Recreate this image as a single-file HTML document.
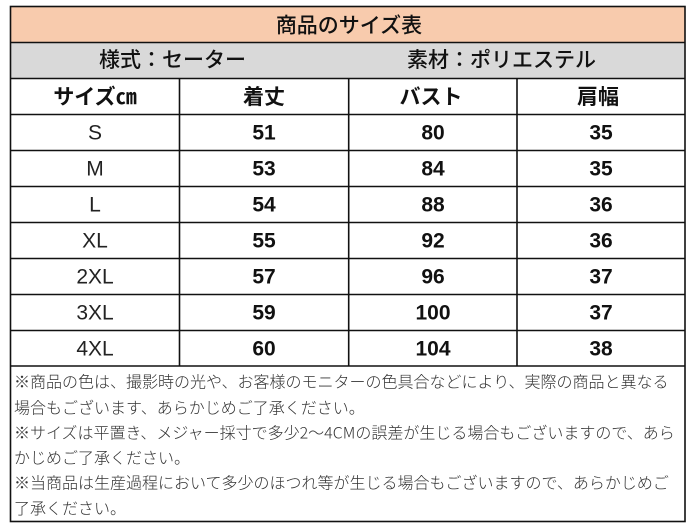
<!DOCTYPE html>
<html><head><meta charset="utf-8"><style>
html,body{margin:0;padding:0;background:#fff;}
svg{display:block;}
.cjk{font-family:"Liberation Sans","Noto Sans CJK JP",sans-serif;}
.jp{font-family:"Noto Sans CJK JP","Liberation Sans",sans-serif;}
.num{font-family:"Liberation Sans",sans-serif;}
</style></head><body>
<svg width="700" height="529" viewBox="0 0 700 529" xmlns="http://www.w3.org/2000/svg">
<rect x="0" y="0" width="700" height="529" fill="#fff"/>
<rect x="10" y="6" width="675" height="36" fill="#f8cbad"/>
<rect x="10" y="42" width="675" height="36" fill="#d9d9d9"/>
<g stroke="#111" stroke-width="1.6" fill="none">
<rect x="10.5" y="6.5" width="674.5" height="515"/>
<line x1="10" y1="42.5" x2="685" y2="42.5"/>
<line x1="10" y1="78.5" x2="685" y2="78.5"/>
<line x1="10" y1="114.5" x2="685" y2="114.5"/>
<line x1="10" y1="150.5" x2="685" y2="150.5"/>
<line x1="10" y1="186.5" x2="685" y2="186.5"/>
<line x1="10" y1="222.5" x2="685" y2="222.5"/>
<line x1="10" y1="258.5" x2="685" y2="258.5"/>
<line x1="10" y1="294.5" x2="685" y2="294.5"/>
<line x1="10" y1="330.5" x2="685" y2="330.5"/>
<line x1="10" y1="366" x2="685" y2="366"/>
<line x1="179.5" y1="78" x2="179.5" y2="366"/>
<line x1="348.7" y1="78" x2="348.7" y2="366"/>
<line x1="517" y1="78" x2="517" y2="366"/>
</g>
<g class="jp" font-size="21" fill="#111" dominant-baseline="central" text-anchor="middle">
<text x="349" y="24.5" font-weight="500">商品のサイズ表</text>
<text x="172.5" y="59" font-weight="500">様式：セーター</text>
<text x="501.5" y="59" font-weight="500">素材：ポリエステル</text>
<text x="95" y="96" font-weight="700">サイズ㎝</text>
<text x="264" y="96" font-weight="700">着丈</text>
<text x="431" y="96" font-weight="700">バスト</text>
<text x="598" y="96" font-weight="700">肩幅</text>
</g>
<g class="num" font-size="21" fill="#222" dominant-baseline="central" text-anchor="middle">
<text x="95" y="133">S</text>
<text x="95" y="169">M</text>
<text x="95" y="205">L</text>
<text x="95" y="241">XL</text>
<text x="95" y="277">2XL</text>
<text x="95" y="313">3XL</text>
<text x="95" y="349">4XL</text>
</g>
<g class="num" font-size="21" font-weight="700" fill="#111" dominant-baseline="central" text-anchor="middle">
<text x="264" y="133">51</text><text x="433" y="133">80</text><text x="601" y="133">35</text>
<text x="264" y="169">53</text><text x="433" y="169">84</text><text x="601" y="169">35</text>
<text x="264" y="205">54</text><text x="433" y="205">88</text><text x="601" y="205">36</text>
<text x="264" y="241">55</text><text x="433" y="241">92</text><text x="601" y="241">36</text>
<text x="264" y="277">57</text><text x="433" y="277">96</text><text x="601" y="277">37</text>
<text x="264" y="313">59</text><text x="433" y="313">100</text><text x="601" y="313">37</text>
<text x="264" y="349">60</text><text x="433" y="349">104</text><text x="601" y="349">38</text>
</g>
<g class="jp" font-size="16" font-weight="300" fill="#333" dominant-baseline="central">
<text x="14" y="380.5">※商品の色は、撮影時の光や、お客様のモニターの色具合などにより、実際の商品と異なる</text>
<text x="14" y="406.5">場合もございます、あらかじめご了承ください。</text>
<text x="14" y="431.5">※サイズは平置き、メジャー採寸で多少2～4CMの誤差が生じる場合もございますので、あら</text>
<text x="14" y="456.5">かじめご了承ください。</text>
<text x="14" y="481.5">※当商品は生産過程において多少のほつれ等が生じる場合もございますので、あらかじめご</text>
<text x="14" y="507">了承ください。</text>
</g>
</svg>
</body></html>
